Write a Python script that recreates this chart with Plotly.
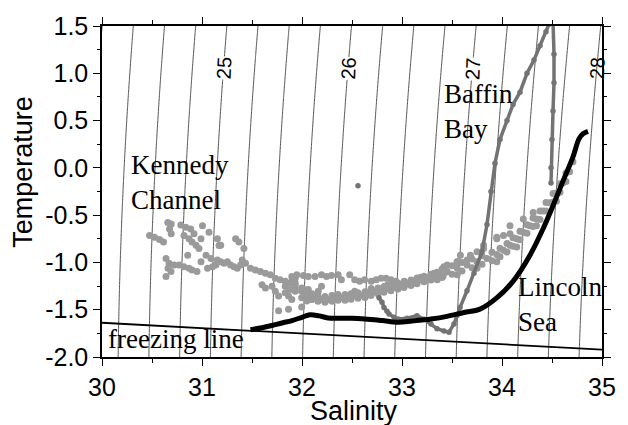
import numpy as np
import plotly.graph_objects as go

# ---------------- data ----------------
kennedy_s = [30.476, 30.526, 30.575, 30.615, 30.658, 30.692, 30.675, 30.692,
             30.788, 30.837, 30.887, 30.82, 30.87, 30.90, 30.94, 30.97,
             30.92, 30.99, 31.005, 31.07, 30.64, 30.67, 30.66, 30.69, 30.64,
             30.72, 30.77, 30.82, 30.87, 30.90, 30.95,
             30.857, 30.99, 31.04, 31.09, 31.055, 31.105, 31.138,
             31.154, 31.187, 31.22, 31.253, 31.286, 31.32, 31.353, 31.386, 31.402,
             31.187, 31.154, 31.336, 31.369, 31.419, 31.17,
             31.435, 31.485, 31.534, 31.584, 31.634, 31.683, 31.733, 31.782, 31.832, 31.882, 31.932,
             31.60, 31.634, 31.70, 31.733, 31.766, 31.832, 31.865, 31.898,
             31.766, 31.865, 31.997,
             31.832, 31.882, 31.932, 31.898, 31.932,
             31.898, 31.948, 32.014, 32.063, 32.13, 32.195, 32.245, 32.295, 32.361, 32.394,
             32.477, 32.527, 32.576, 32.626, 32.692, 32.741, 32.791, 32.84, 32.89, 32.94,
             31.932, 31.997, 32.063, 32.13, 32.195, 32.262, 32.328, 32.394, 32.46, 32.527,
             32.593, 32.659, 32.725, 32.791, 32.857, 32.923, 32.989, 33.056, 33.122, 33.188,
             33.254, 33.32, 33.386, 33.436,
             32.527, 32.692, 32.857, 33.023, 33.188, 33.353,
             31.997, 32.063, 31.932, 32.163, 32.195, 31.997, 32.047, 32.096,
             33.353, 33.452, 33.552, 33.651, 33.75, 33.849, 33.948, 34.015, 34.08, 34.147,
             34.213, 34.279, 34.345, 34.411, 34.477, 34.544, 34.61, 34.676, 34.709,
             33.552, 33.684, 33.816, 33.948, 34.08, 34.213, 34.312,
             33.353, 33.552, 33.75, 33.948, 34.147, 34.345, 34.544,
             33.584, 33.651, 33.75, 33.816, 33.948, 34.015, 34.08,
             33.32, 33.419, 33.452, 33.552,
             # band upper edge 32-33.4
             32.03, 32.10, 32.16, 32.23, 32.30, 32.36, 32.43, 32.49, 32.56, 32.63, 32.69,
             32.76, 32.82, 32.89, 32.96, 33.02, 33.09, 33.15, 33.22, 33.29, 33.35, 33.41,
             # band lower edge 32-33.4
             32.03, 32.10, 32.16, 32.23, 32.30, 32.36, 32.43, 32.49, 32.56, 32.63, 32.69,
             32.76, 32.82, 32.89, 32.96, 33.02, 33.09, 33.15, 33.22, 33.29, 33.35, 33.41,
             # band upper edge 33.4-34.65
             33.40, 33.50, 33.60, 33.70, 33.80, 33.90, 33.98, 34.05, 34.11, 34.18, 34.25,
             34.31, 34.38, 34.44, 34.51, 34.58, 34.64,
             # band lower edge 33.4-34.65
             33.40, 33.50, 33.60, 33.70, 33.80, 33.90, 33.98, 34.05, 34.11, 34.18, 34.25,
             34.31, 34.38, 34.44, 34.51, 34.58, 34.64]
kennedy_t = [-0.715, -0.733, -0.757, -0.784, -0.577, -0.594, -0.647, -0.698,
             -0.605, -0.629, -0.647, -0.715, -0.75, -0.784, -0.819, -0.854,
             -0.698, -0.75, -0.611, -0.681, -0.958, -1.01, -1.062, -1.096, -1.148,
             -1.027, -1.027, -1.045, -1.062, -1.079, -1.096,
             -0.923, -0.992, -0.923, -0.958, -1.062, -1.045, -1.027,
             -0.975, -0.992, -1.01, -0.992, -1.027, -1.045, -1.062, -1.027, -0.975,
             -0.819, -0.75, -0.75, -0.784, -0.854, -0.82,
             -1.01, -1.062, -1.079, -1.096, -1.114, -1.131, -1.166, -1.183, -1.2, -1.218, -1.235,
             -1.235, -1.27, -1.252, -1.304, -1.356, -1.321, -1.356, -1.391,
             -1.511, -1.494, -1.47,
             -1.252, -1.287, -1.304, -1.2, -1.166,
             -1.148, -1.131, -1.138, -1.148, -1.148, -1.131, -1.148, -1.138, -1.131, -1.183,
             -1.131, -1.183, -1.2, -1.183, -1.2, -1.183, -1.166, -1.166, -1.183, -1.2,
             -1.27, -1.304, -1.339, -1.373, -1.391, -1.391, -1.373, -1.373, -1.366, -1.356,
             -1.346, -1.332, -1.311, -1.297, -1.276, -1.263, -1.242, -1.229, -1.206, -1.185,
             -1.164, -1.143, -1.131, -1.103,
             -1.304, -1.276, -1.235, -1.2, -1.158, -1.114,
             -1.27, -1.287, -1.218, -1.304, -1.252, -1.373, -1.408, -1.391,
             -1.131, -1.096, -1.062, -1.027, -0.992, -0.958, -0.916, -0.871, -0.819, -0.75,
             -0.681, -0.611, -0.542, -0.456, -0.369, -0.265, -0.161, -0.04, 0.064,
             -0.992, -0.923, -0.819, -0.75, -0.611, -0.542, -0.473,
             -1.183, -1.131, -1.062, -0.992, -0.836, -0.611, -0.352,
             -0.923, -0.975, -0.888, -0.854, -0.733, -0.715, -0.698,
             -1.114, -1.045, -1.027, -0.992,
             -1.29, -1.33, -1.35, -1.36, -1.35, -1.34, -1.34, -1.33, -1.32, -1.31, -1.29,
             -1.27, -1.255, -1.24, -1.22, -1.205, -1.185, -1.165, -1.145, -1.125, -1.105, -1.085,
             -1.35, -1.39, -1.41, -1.42, -1.41, -1.40, -1.40, -1.39, -1.38, -1.37, -1.35,
             -1.33, -1.315, -1.30, -1.28, -1.265, -1.245, -1.225, -1.205, -1.185, -1.165, -1.145,
             -1.07, -1.035, -1.0, -0.965, -0.93, -0.892, -0.849, -0.8, -0.74, -0.67, -0.601,
             -0.531, -0.455, -0.365, -0.272, -0.168, -0.055,
             -1.16, -1.125, -1.09, -1.055, -1.02, -0.982, -0.939, -0.89, -0.83, -0.76, -0.691,
             -0.621, -0.545, -0.455, -0.362, -0.258, -0.145]

baffin_s = [32.77, 32.80, 32.82, 32.85, 32.87, 32.92, 32.96, 33.05, 33.15, 33.22, 33.29,
            33.35, 33.42, 33.47, 33.52, 33.55, 33.58, 33.65, 33.72, 33.80, 33.85,
            33.89, 33.93, 33.98, 34.05, 34.11, 34.18, 34.25, 34.32, 34.38, 34.44,
            34.47, 34.49, 34.51, 34.52, 34.52, 34.51, 34.50, 34.49, 34.49]
baffin_t = [-1.373, -1.42, -1.477, -1.515, -1.546, -1.58, -1.598, -1.59, -1.563, -1.60, -1.65,
            -1.70, -1.725, -1.737, -1.65, -1.56, -1.477, -1.30, -1.114, -0.888, -0.60,
            -0.25, 0.05, 0.30, 0.50, 0.67, 0.80, 1.00, 1.14, 1.29, 1.44,
            1.52, 1.60, 1.55, 1.20, 0.90, 0.60, 0.30, 0.00, -0.16]
baffin_outlier_s = [32.56]
baffin_outlier_t = [-0.19]

lincoln_s = [31.485, 31.60, 31.70, 31.80, 31.90, 32.0, 32.08, 32.17, 32.26, 32.4, 32.5,
             32.63, 32.8, 32.96, 33.1, 33.29, 33.45, 33.62, 33.78, 33.95, 34.11, 34.28,
             34.41, 34.51, 34.61, 34.71, 34.77, 34.81, 34.86]
lincoln_t = [-1.712, -1.69, -1.667, -1.64, -1.615, -1.58, -1.553, -1.565, -1.587, -1.59, -1.59,
             -1.598, -1.615, -1.633, -1.62, -1.598, -1.57, -1.529, -1.494, -1.373, -1.20, -0.923,
             -0.646, -0.40, -0.14, 0.116, 0.306, 0.36, 0.386]

isopycnal_levels = [24.0 + 0.25 * i for i in range(18)]
isopycnal_labels = [25, 26, 27, 28]
x_tick_vals = [30, 31, 32, 33, 34, 35]
y_tick_vals = [-2.0, -1.5, -1.0, -0.5, 0.0, 0.5, 1.0, 1.5]
y_tick_text = ["-2.0", "-1.5", "-1.0", "-0.5", "0.0", "0.5", "1.0", "1.5"]


# ---------------- physics helpers (EOS-80 at p=0) ----------------
def sigma_t(S, T):
    S = np.asarray(S, float)
    T = np.asarray(T, float)
    rw = (999.842594 + 6.793952e-2 * T - 9.095290e-3 * T**2 + 1.001685e-4 * T**3
          - 1.120083e-6 * T**4 + 6.536332e-9 * T**5)
    A = 0.824493 - 4.0899e-3 * T + 7.6438e-5 * T**2 - 8.2467e-7 * T**3 + 5.3875e-9 * T**4
    B = -5.72466e-3 + 1.0227e-4 * T - 1.6546e-6 * T**2
    return rw + A * S + B * S**1.5 + 4.8314e-4 * S**2 - 1000.0


def freezing_t(S):
    S = np.asarray(S, float)
    return -0.0575 * S + 1.710523e-3 * S**1.5 - 2.154996e-4 * S**2


def salinity_for(level, T):
    lo, hi = 20.0, 40.0
    for _ in range(60):
        mid = 0.5 * (lo + hi)
        if sigma_t(mid, T) < level:
            lo = mid
        else:
            hi = mid
    return 0.5 * (lo + hi)


# ---------------- figure ----------------
fig = go.Figure()

sg = np.linspace(29.7, 35.3, 120)
tg = np.linspace(-2.3, 1.8, 90)
SS, TT = np.meshgrid(sg, tg)
fig.add_trace(go.Contour(
    x=sg, y=tg, z=sigma_t(SS, TT),
    contours=dict(start=isopycnal_levels[0], end=isopycnal_levels[-1],
                  size=0.25, coloring="none", showlabels=False),
    line=dict(color="#3a3a3a", width=0.9, smoothing=0),
    showscale=False, hoverinfo="skip"))

s_line = np.linspace(30, 35, 60)
fig.add_trace(go.Scatter(x=s_line, y=freezing_t(s_line), mode="lines",
                         line=dict(color="black", width=1.8), hoverinfo="skip"))

fig.add_trace(go.Scatter(x=kennedy_s, y=kennedy_t, mode="markers",
                         marker=dict(color="#9a9a9a", size=7, line=dict(width=0))))

fig.add_trace(go.Scatter(x=baffin_s, y=baffin_t, mode="lines+markers",
                         line=dict(color="#737373", width=3.5),
                         marker=dict(color="#737373", size=5.5)))
fig.add_trace(go.Scatter(x=baffin_outlier_s, y=baffin_outlier_t, mode="markers",
                         marker=dict(color="#737373", size=5.5)))

fig.add_trace(go.Scatter(x=lincoln_s, y=lincoln_t, mode="lines",
                         line=dict(color="black", width=5, shape="spline")))

# isopycnal labels
label_T = 1.05
for lev in isopycnal_labels:
    s_lab = salinity_for(lev, label_T)
    fig.add_annotation(x=s_lab, y=label_T, text=str(lev), showarrow=False,
                       textangle=-87.5, xanchor="center", yanchor="middle",
                       font=dict(family="Liberation Sans", size=20, color="black"),
                       bgcolor="white" if lev < 28 else "rgba(0,0,0,0)",
                       borderpad=0)

serif = dict(family="Liberation Serif", size=27, color="black")
fig.add_annotation(x=30.27, y=-0.16, text="Kennedy<br>Channel", showarrow=False,
                   xanchor="left", yanchor="middle", align="left", font=serif)
fig.add_annotation(x=33.40, y=0.60, text="Baffin<br>Bay", showarrow=False,
                   xanchor="left", yanchor="middle", align="left", font=serif)
fig.add_annotation(x=34.14, y=-1.45, text="Lincoln<br>Sea", showarrow=False,
                   xanchor="left", yanchor="middle", align="left", font=serif)
fig.add_annotation(x=30.04, y=-1.81, text="freezing line", showarrow=False,
                   xanchor="left", yanchor="middle", align="left", font=serif)

sans = dict(family="Liberation Sans", size=27, color="black")
fig.add_annotation(xref="paper", yref="paper", x=-0.157, y=0.558, text="Temperature",
                   textangle=-90, showarrow=False, xanchor="center", yanchor="middle",
                   font=sans)
fig.add_annotation(xref="paper", yref="paper", x=0.504, y=-0.162, text="Salinity",
                   showarrow=False, xanchor="center", yanchor="middle", font=sans)

axis_common = dict(showgrid=False, zeroline=False, showline=True, linecolor="black",
                   linewidth=1.5, mirror="allticks", ticks="outside", tickcolor="black",
                   tickwidth=1.2, ticklen=7,
                   tickfont=dict(family="Liberation Sans", size=25, color="black"))
fig.update_xaxes(range=[30, 35], tickvals=x_tick_vals,
                 minor=dict(dtick=0.5, ticks="outside", ticklen=4, tickcolor="black",
                            tickwidth=1.0, showgrid=False),
                 **axis_common)
fig.update_yaxes(range=[-2.0, 1.5], tickvals=y_tick_vals, ticktext=y_tick_text,
                 minor=dict(dtick=0.25, ticks="outside", ticklen=3, tickcolor="black",
                            tickwidth=1.0, showgrid=False),
                 **axis_common)

fig.update_layout(width=628, height=425, margin=dict(l=102, r=22, t=20, b=68),
                  plot_bgcolor="white", paper_bgcolor="white", showlegend=False)

fig.write_html("out.html")
